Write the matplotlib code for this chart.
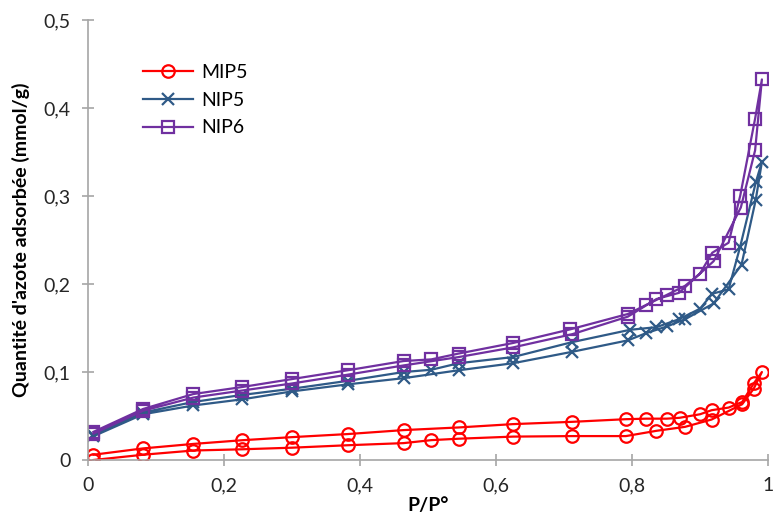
import numpy as np
import matplotlib.pyplot as plt
from matplotlib.ticker import FuncFormatter, MultipleLocator

# MIP5 : adsorption puis desorption
mip5_x_ads = [0.008, 0.081, 0.155, 0.227, 0.30, 0.382, 0.464, 0.505, 0.545, 0.625,
              0.712, 0.791, 0.836, 0.878, 0.917, 0.962, 0.979, 0.991]
mip5_y_ads = [0.0, 0.0060, 0.0108, 0.0122, 0.0140, 0.0168, 0.0192, 0.0226, 0.0242, 0.0266,
              0.0272, 0.0272, 0.0332, 0.0377, 0.0460, 0.0634, 0.0811, 0.100]
mip5_x_des = [0.979, 0.962, 0.942, 0.917, 0.90, 0.87, 0.851, 0.821, 0.791, 0.712,
              0.625, 0.545, 0.464, 0.382, 0.30, 0.227, 0.155, 0.081, 0.008]
mip5_y_des = [0.087, 0.066, 0.0596, 0.0566, 0.052, 0.048, 0.047, 0.047, 0.0464, 0.0434,
              0.0408, 0.037, 0.034, 0.0295, 0.0260, 0.0225, 0.0183, 0.0132, 0.0060]

# NIP5
nip5_x_ads = [0.008, 0.081, 0.155, 0.227, 0.30, 0.382, 0.464, 0.545, 0.625, 0.712,
              0.794, 0.82, 0.852, 0.878, 0.92, 0.961, 0.982, 0.991]
nip5_y_ads = [0.027, 0.052, 0.062, 0.069, 0.078, 0.086, 0.093, 0.102, 0.110, 0.123,
              0.136, 0.144, 0.152, 0.160, 0.178, 0.222, 0.296, 0.339]
nip5_x_des = [0.982, 0.959, 0.942, 0.918, 0.90, 0.869, 0.836, 0.797, 0.712,
              0.625, 0.545, 0.505, 0.464, 0.382, 0.30, 0.227, 0.155, 0.081, 0.008]
nip5_y_des = [0.3155, 0.2424, 0.194, 0.189, 0.172, 0.160, 0.151, 0.148, 0.134,
              0.117, 0.110, 0.1026, 0.100, 0.090, 0.081, 0.074, 0.066, 0.054, 0.029]

# NIP6
nip6_x_ads = [0.008, 0.081, 0.155, 0.227, 0.30, 0.382, 0.464, 0.545, 0.625, 0.712,
              0.794, 0.836, 0.869, 0.92, 0.96, 0.981, 0.991]
nip6_y_ads = [0.030, 0.056, 0.071, 0.079, 0.087, 0.097, 0.1075, 0.117, 0.128, 0.143,
              0.163, 0.183, 0.190, 0.226, 0.287, 0.352, 0.4326]
nip6_x_des = [0.981, 0.959, 0.942, 0.918, 0.90, 0.878, 0.852, 0.82, 0.794, 0.709,
              0.625, 0.545, 0.505, 0.464, 0.382, 0.30, 0.227, 0.155, 0.081, 0.008]
nip6_y_des = [0.388, 0.300, 0.247, 0.2356, 0.212, 0.198, 0.188, 0.176, 0.166, 0.1485,
              0.133, 0.121, 0.1144, 0.1125, 0.102, 0.092, 0.083, 0.075, 0.058, 0.032]

series = [
    ("MIP5", mip5_x_ads + mip5_x_des, mip5_y_ads + mip5_y_des, "#FF0000", "o", 9),
    ("NIP5", nip5_x_ads + nip5_x_des, nip5_y_ads + nip5_y_des, "#2F5A87", "x", 8),
    ("NIP6", nip6_x_ads + nip6_x_des, nip6_y_ads + nip6_y_des, "#7030A0", "s", 8.5),
]

plt.rcParams['font.family'] = ['Lato', 'DejaVu Sans']

fig = plt.figure(figsize=(7.75, 5.16), dpi=100)
ax = fig.add_axes([0.1135, 0.1085, 0.8775, 0.8525])

for name, x, y, col, mk, ms in series:
    ax.plot(x, y, color=col, linewidth=1.6, marker=mk, markersize=ms,
            markerfacecolor='none', markeredgecolor=col, markeredgewidth=1.6,
            label=name)

ax.set_xlim(0, 1)
ax.set_ylim(0, 0.5)
ax.xaxis.set_major_locator(MultipleLocator(0.2))
ax.yaxis.set_major_locator(MultipleLocator(0.1))

def virgule(v, pos):
    s = ('%.1f' % v).rstrip('0').rstrip('.')
    return s.replace('.', ',')

ax.xaxis.set_major_formatter(FuncFormatter(virgule))
ax.yaxis.set_major_formatter(FuncFormatter(virgule))

for side in ['top', 'right']:
    ax.spines[side].set_visible(False)
for side in ['left', 'bottom']:
    ax.spines[side].set_color('#A6A6A6')
    ax.spines[side].set_linewidth(1.2)
ax.tick_params(direction='inout', length=9, width=1.2, color='#A6A6A6',
               labelsize=14, labelcolor='#262626', pad=8)

ax.set_xlabel("P/P°", fontsize=14, fontweight='bold', labelpad=2)
ax.set_ylabel("Quantité d'azote adsorbée (mmol/g)", fontsize=14,
              fontweight='bold', labelpad=10)

ax.legend(loc='upper left', bbox_to_anchor=(0.055, 0.94), frameon=False,
          fontsize=14, handlelength=2.6, labelspacing=0.55, handletextpad=0.4)

fig.savefig("out.png", dpi=100)
